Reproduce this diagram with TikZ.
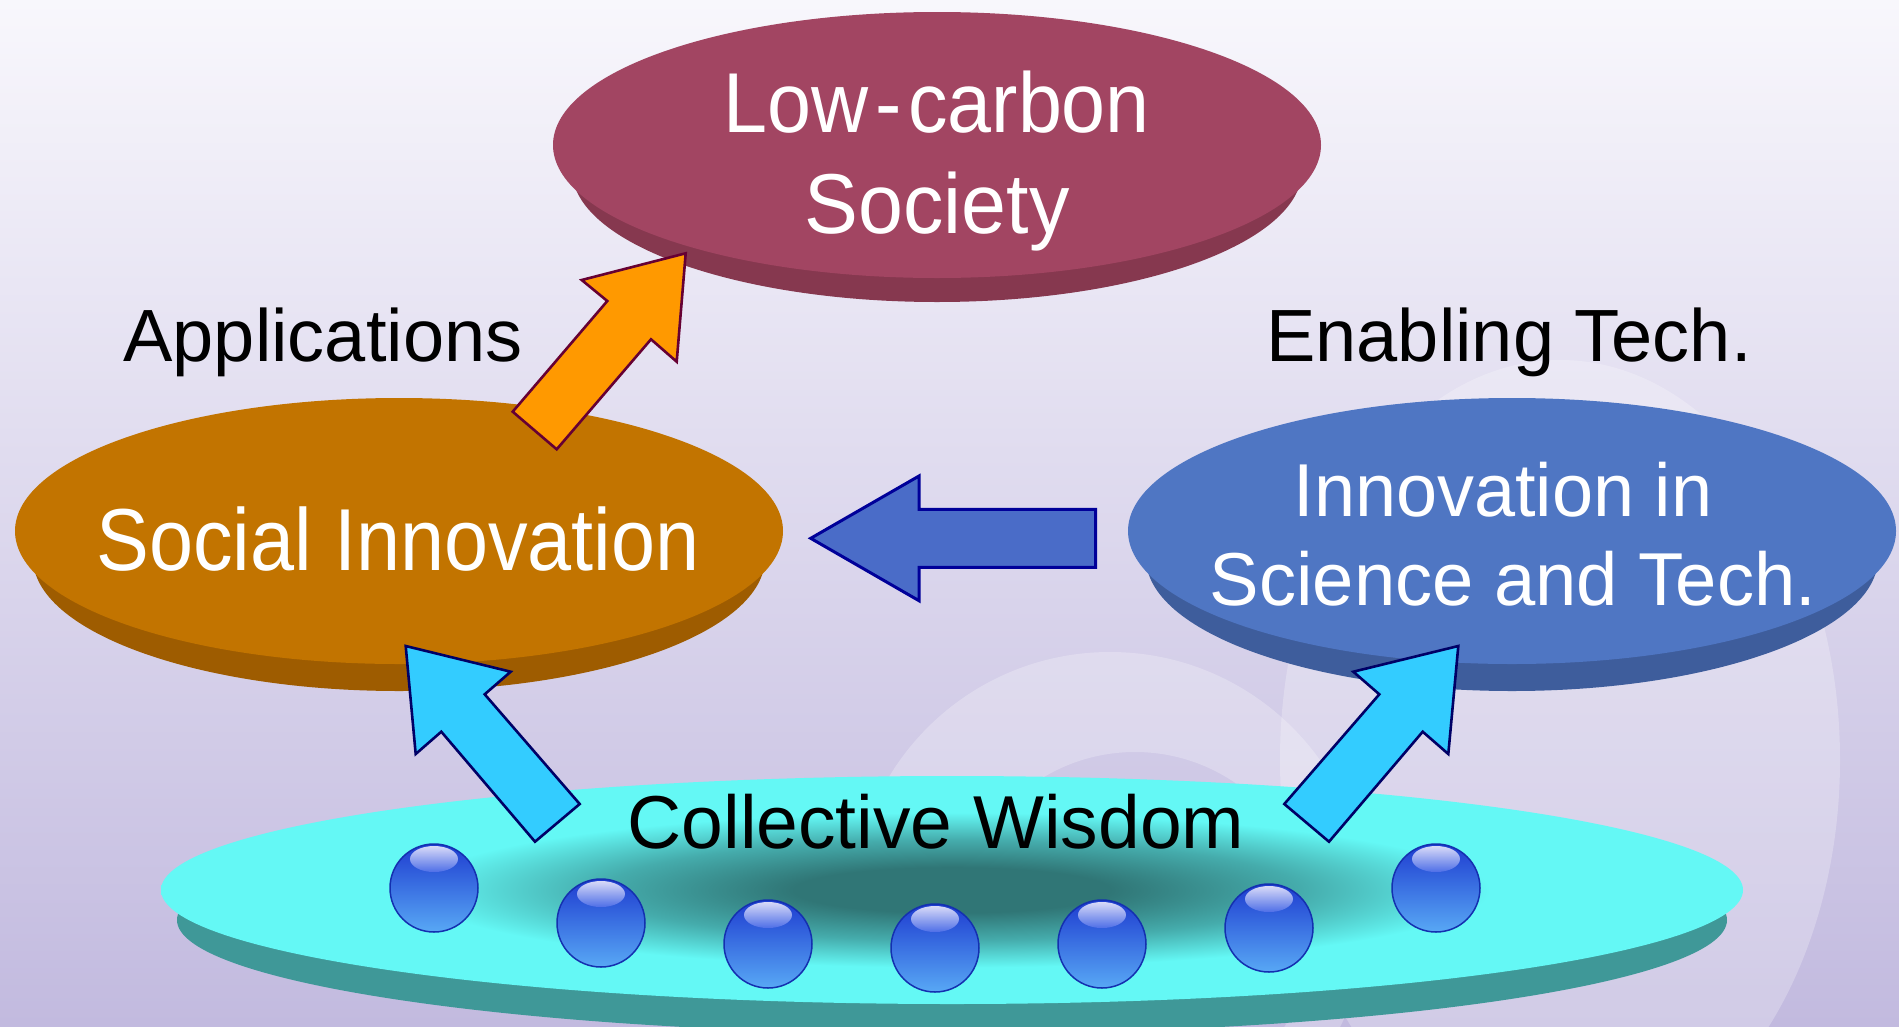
\documentclass[tikz,border=0pt]{standalone}
\usepackage{fontspec}
\setmainfont{Liberation Sans}
\usetikzlibrary{shapes.geometric}

\definecolor{bgtop}{HTML}{F8F7FC}
\definecolor{bgmid}{HTML}{E3DFF1}
\definecolor{bgbot}{HTML}{C2BADF}
\definecolor{lcface}{HTML}{A24562}
\definecolor{lcrim}{HTML}{86384F}
\definecolor{siface}{HTML}{C27400}
\definecolor{sirim}{HTML}{9E5C00}
\definecolor{stface}{HTML}{4F76C3}
\definecolor{strim}{HTML}{3E5D9C}
\definecolor{wcyan}{HTML}{64F8F5}
\definecolor{wmid}{HTML}{45ACAC}
\definecolor{wdark}{HTML}{307676}
\definecolor{wrim}{HTML}{3F9898}
\definecolor{orangefill}{HTML}{FF9900}
\definecolor{orangeedge}{HTML}{660033}
\definecolor{cyanfill}{HTML}{33CCFF}
\definecolor{cyanedge}{HTML}{000066}
\definecolor{bluefill}{HTML}{4A6CC8}
\definecolor{blueedge}{HTML}{000099}
\definecolor{sphtop}{HTML}{1E3CD0}
\definecolor{sphmid}{HTML}{2A55E2}
\definecolor{sphbot}{HTML}{58A8F5}
\definecolor{sphedge}{HTML}{1430B0}
\definecolor{sphhi}{HTML}{E2E2FA}
\definecolor{sphhib}{HTML}{5070E8}

\pgfdeclareradialshading{wisdomshade}{\pgfpoint{0bp}{0bp}}{color(0bp)=(wdark); color(5bp)=(wdark); color(11bp)=(wmid); color(17bp)=(wcyan); color(25bp)=(wcyan); color(50bp)=(wcyan)}

\tikzset{
  disk/.style={ellipse, inner sep=0pt, outer sep=0pt, minimum width=768pt, minimum height=266pt},
  whitetext/.style={text=white, anchor=base, inner sep=0pt},
  blacktext/.style={text=black, anchor=base, inner sep=0pt},
  blockarrow/.style={line width=2.6pt, line join=miter},
}

\begin{document}
\begin{tikzpicture}[x=1pt,y=-1pt]
\shade[top color=bgtop, middle color=bgmid, bottom color=bgbot] (0,0) rectangle (1899,1026);
\useasboundingbox (0,0) rectangle (1899,1026);

% faint swirl in the background
\fill[white, opacity=0.25] (1560,760) ellipse [x radius=280, y radius=400];
\fill[white, opacity=0.25, even odd rule] (1110,910) circle [radius=258] (1135,930) circle [radius=178];

% Collective Wisdom disk
\fill[wrim] (952,920) ellipse [x radius=775, y radius=114];
\shade[shading=wisdomshade] (952,890) ellipse [x radius=791, y radius=114];
\coordinate (wisdom) at (952,890);

% spheres
\foreach \n/\x/\y in {1/434/888, 2/601/923, 3/768/944, 4/935/948, 5/1102/944, 6/1269/928, 7/1436/888}{
  \shade[top color=sphtop, middle color=sphmid, bottom color=sphbot, draw=sphedge, line width=1.5pt]
    (\x,\y) ellipse [x radius=44, y radius=44];
  \shade[top color=sphhi, bottom color=sphhib, opacity=0.95]
    (\x,\y-29) ellipse [x radius=24, y radius=13];
}

\node[blacktext, font=\fontsize{75pt}{90pt}\selectfont] (cw) at (936,848) {Collective Wisdom};

% Low-carbon Society disk
\fill[lcrim] (937,170) ellipse [x radius=365, y radius=132];
\node[disk, fill=lcface] (lowc) at (937,145) {};
\node[whitetext, font=\fontsize{85pt}{100pt}\selectfont, xscale=0.93] (lc1) at (937,132) {Low\kern7pt-\kern7pt carbon};
\node[whitetext, font=\fontsize{85pt}{100pt}\selectfont, xscale=0.95] (lc2) at (937,233) {Society};

% Social Innovation disk
\fill[sirim] (399,558) ellipse [x radius=366, y radius=133];
\node[disk, fill=siface] (soc) at (399,531) {};
\node[whitetext, font=\fontsize{88pt}{100pt}\selectfont, xscale=0.9] (soct) at (398,570) {Social Innovation};

% Innovation in Science and Tech. disk
\fill[strim] (1512,558) ellipse [x radius=366, y radius=133];
\node[disk, fill=stface] (sci) at (1512,531) {};
\node[whitetext, font=\fontsize{75pt}{90pt}\selectfont, xscale=0.985] (sci1) at (1503,516) {Innovation in};
\node[whitetext, font=\fontsize{75pt}{90pt}\selectfont, xscale=0.99] (sci2) at (1513,605) {Science and Tech.};

% labels
\node[blacktext, font=\fontsize{74pt}{90pt}\selectfont] (app) at (323,361) {Applications};
\node[blacktext, font=\fontsize{74pt}{90pt}\selectfont] (ena) at (1509,361) {Enabling Tech.};

% block arrows
\draw[blockarrow, fill=orangefill, draw=orangeedge]
  (685.7,253.3) -- (581.7,280) -- (607.3,301) -- (512.7,411.7) -- (556.7,449.3) -- (651,339.3) -- (676.7,361.7) -- cycle;
\draw[blockarrow, fill=cyanfill, draw=cyanedge]
  (1458.3,646) -- (1353.3,671.7) -- (1379.3,694.3) -- (1284.3,804) -- (1329,841.7) -- (1422.7,731.7) -- (1448.3,754) -- cycle;
\draw[blockarrow, fill=cyanfill, draw=cyanedge]
  (405.7,646) -- (510.7,671.7) -- (484.7,694.3) -- (579.7,804) -- (535,841.7) -- (441.3,731.7) -- (415.7,754) -- cycle;
\draw[blockarrow, line width=3pt, fill=bluefill, draw=blueedge]
  (810.7,538.3) -- (919,476) -- (919,509.3) -- (1095.7,509.3) -- (1095.7,567.3) -- (919,567.3) -- (919,600.7) -- cycle;
\end{tikzpicture}
\end{document}
